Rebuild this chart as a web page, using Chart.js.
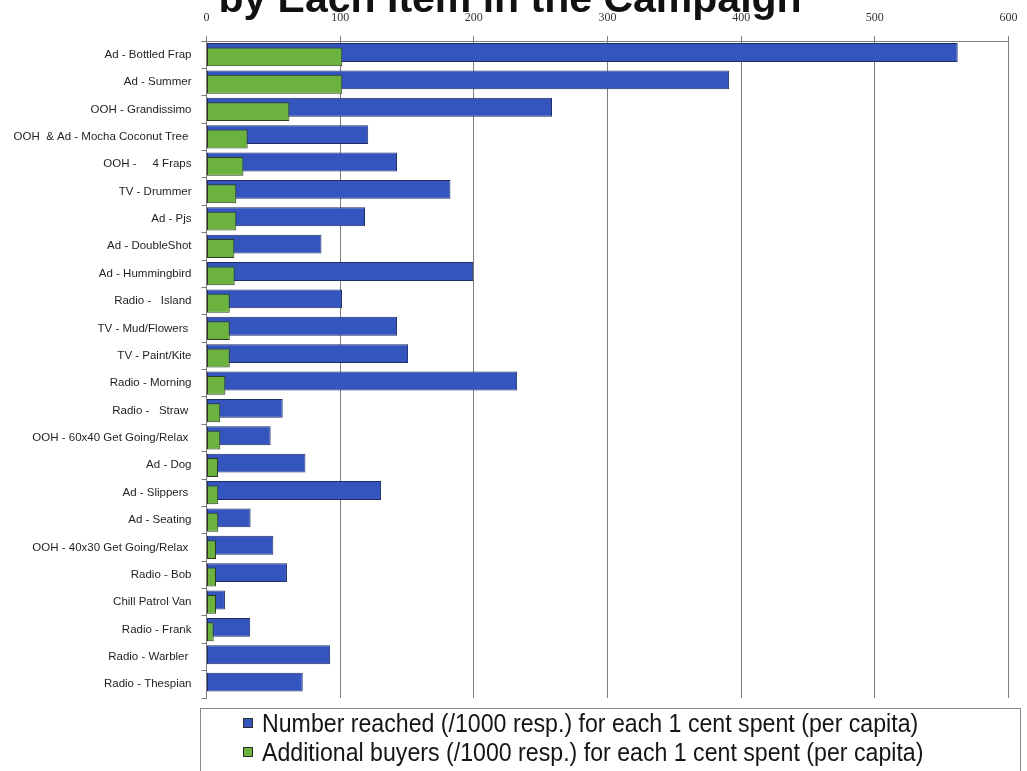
<!DOCTYPE html>
<html>
<head>
<meta charset="utf-8">
<script src="https://cdn.jsdelivr.net/npm/chart.js@4/dist/chart.umd.min.js"></script>
<style>
  html, body { margin: 0; padding: 0; background: #fff; overflow: hidden; }
  #wrap { position: relative; width: 1027px; height: 771px; overflow: hidden; background: #fff; }
  #legend {
    position: absolute; left: 200px; top: 708px; width: 821px; height: 100px;
    border: 1px solid #8a8a8a; box-sizing: border-box;
    font-family: "Liberation Sans Narrow", "Arial Narrow", "Liberation Sans", Arial, sans-serif;
    font-size: 25px; color: #151515;
  }
  #legend .item { position: absolute; left: 42px; height: 28px; display: flex; align-items: center; white-space: pre; }
  #legend .swatch { width: 8px; height: 8px; border: 1px solid #2a2a2a; margin-right: 9px; flex: none; }
  #legend .text { display: inline-block; transform: scaleX(0.926); transform-origin: left center; }
</style>
</head>
<body>
<div id="wrap">
  <canvas id="c" width="1027" height="771"></canvas>
  <div id="legend"></div>
</div>
<script>
// Campaign items, top to bottom
const categories = [
  'Ad - Bottled Frap', 'Ad - Summer', 'OOH - Grandissimo', 'OOH  & Ad - Mocha Coconut Tree ',
  'OOH -     4 Fraps', 'TV - Drummer', 'Ad - Pjs', 'Ad - DoubleShot', 'Ad - Hummingbird',
  'Radio -   Island', 'TV - Mud/Flowers ', 'TV - Paint/Kite', 'Radio - Morning',
  'Radio -   Straw ', 'OOH - 60x40 Get Going/Relax ', 'Ad - Dog', 'Ad - Slippers ',
  'Ad - Seating', 'OOH - 40x30 Get Going/Relax ', 'Radio - Bob', 'Chill Patrol Van',
  'Radio - Frank', 'Radio - Warbler ', 'Radio - Thespian'
];

// Number reached (/1000 resp.) per 1 cent spent per capita
const reachedPerCent = [
  562, 391, 258.5, 121, 142.5, 182.5, 118.6, 86, 199.5,
  101.4, 142.5, 150.8, 232.4, 57, 48, 74, 130.6,
  33, 50, 60.2, 13.8, 32.7, 92.5, 72
];

// Additional buyers (/1000 resp.) per 1 cent spent per capita
const buyersPerCent = [
  101.6, 101.6, 62, 30.8, 27.6, 22.3, 22.3, 20.8, 21.1,
  17.4, 17.4, 17.4, 14.1, 10.3, 10.3, 8.6, 8.8,
  8.8, 7.1, 7.1, 7.1, 5.4, null, null
];

const seriesNames = [
  'Number reached (/1000 resp.) for each 1 cent spent (per capita)',
  'Additional buyers (/1000 resp.) for each 1 cent spent (per capita)'
];

const titleText = 'by Each Item in the Campaign';
const xMin = 0, xMax = 600, xStep = 100;

const BLUE = '#3455bd';
const GREEN = '#6bb23e';
const GRID = '#7d7d7d';

// Bold headline, drawn partly above the top edge of the canvas
const headline = {
  id: 'headline',
  afterDraw(chart, args, opts) {
    const ctx = chart.ctx;
    ctx.save();
    ctx.font = opts.font;
    ctx.fillStyle = opts.color;
    ctx.textAlign = 'center';
    ctx.textBaseline = 'alphabetic';
    ctx.fillText(opts.text, opts.x, opts.y);
    ctx.restore();
  }
};

const barStyle = {
  borderWidth: 1,
  borderSkipped: false,
  categoryPercentage: 0.32,
  barPercentage: 4.3
};

const chart = new Chart(document.getElementById('c'), {
  type: 'bar',
  data: {
    labels: categories,
    datasets: [
      Object.assign({
        label: seriesNames[0], data: reachedPerCent, stack: 'reach', order: 2,
        backgroundColor: BLUE, borderColor: '#1f2d66'
      }, barStyle),
      Object.assign({
        label: seriesNames[1], data: buyersPerCent, stack: 'buyers', order: 1,
        backgroundColor: GREEN, borderColor: '#2b3b20'
      }, barStyle),
      // empty dataset that takes the upper slot of every row, so the buyers bars
      // sit slightly lower than the reach bars while still drawing on top of them
      Object.assign({ label: '', data: [], stack: 'reach', order: 0 }, barStyle)
    ]
  },
  options: {
    indexAxis: 'y',
    responsive: false,
    animation: false,
    devicePixelRatio: 1,
    layout: { padding: { left: 0, right: 18.5, top: 0, bottom: 73 } },
    scales: {
      x: {
        type: 'linear', position: 'top', min: xMin, max: xMax, stacked: false,
        ticks: {
          stepSize: xStep, padding: 11, color: '#333',
          font: { family: '"Liberation Serif", "Times New Roman", serif', size: 12 }
        },
        grid: { color: GRID, lineWidth: 1, tickLength: 5 },
        border: { color: GRID, width: 1 },
        afterFit(scale) {
          scale.height = 41;
          scale.paddingLeft = 0;
          scale.paddingRight = 0;
        }
      },
      y: {
        type: 'category', offset: true,
        grid: { offset: true, drawOnChartArea: false, tickLength: 5, color: GRID },
        border: { color: GRID, width: 1 },
        ticks: {
          autoSkip: false, padding: 10, color: '#1e1e1e',
          font: { family: '"Liberation Sans", Arial, sans-serif', size: 11.5 }
        },
        afterFit(scale) {
          scale.width = 206.5;
          scale.paddingTop = 0;
          scale.paddingBottom = 0;
        }
      }
    },
    plugins: {
      legend: { display: false },
      tooltip: { enabled: false },
      headline: {
        text: titleText, x: 510, y: 12,
        font: 'bold 41px "Liberation Sans", Arial, sans-serif', color: '#111'
      }
    }
  },
  plugins: [headline]
});

// Legend built from the chart's own dataset entries
const legendEl = document.getElementById('legend');
const entries = Chart.defaults.plugins.legend.labels.generateLabels(chart)
  .filter(it => it.text)
  .sort((a, b) => a.datasetIndex - b.datasetIndex);
entries.forEach((it, i) => {
  const row = document.createElement('div');
  row.className = 'item';
  row.style.top = (i * 29) + 'px';
  const sw = document.createElement('span');
  sw.className = 'swatch';
  sw.style.background = it.fillStyle;
  const tx = document.createElement('span');
  tx.className = 'text';
  tx.textContent = it.text;
  row.appendChild(sw);
  row.appendChild(tx);
  legendEl.appendChild(row);
});
</script>
</body>
</html>
